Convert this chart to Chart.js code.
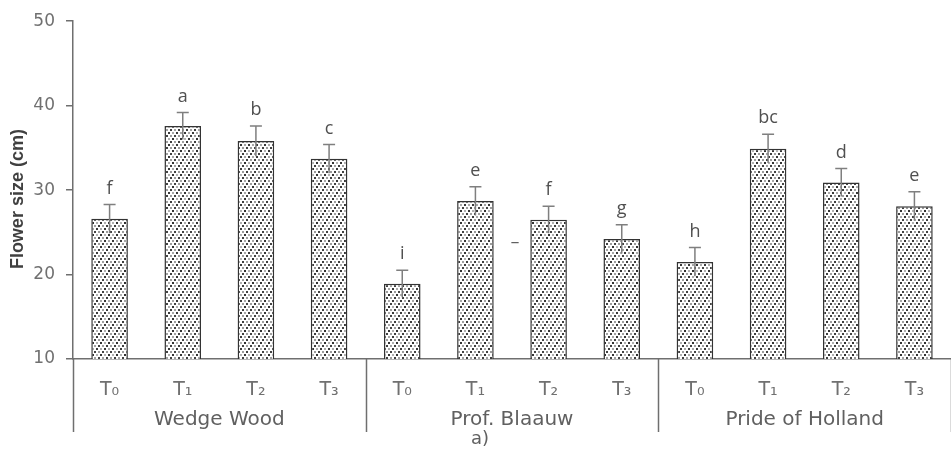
<!DOCTYPE html>
<html>
<head>
<meta charset="utf-8">
<script src="https://cdn.jsdelivr.net/npm/chart.js@4.4.1/dist/chart.umd.min.js"></script>
<style>
  html, body { margin: 0; padding: 0; background: #fff; }
  #wrap { width: 951px; height: 451px; }
</style>
</head>
<body>
<div id="wrap"><canvas id="chart"></canvas></div>
<script>
// ---- data ----
const treatments = ['T₀', 'T₁', 'T₂', 'T₃', 'T₀', 'T₁', 'T₂', 'T₃', 'T₀', 'T₁', 'T₂', 'T₃'];
const cultivars = ['Wedge Wood', 'Prof. Blaauw', 'Pride of Holland'];
const flowerSize = [26.6, 37.6, 35.8, 33.7, 18.9, 28.7, 26.5, 24.2, 21.5, 34.9, 30.9, 28.1];
const stdError = [1.7, 1.6, 1.8, 1.7, 1.6, 1.7, 1.6, 1.7, 1.7, 1.7, 1.65, 1.7];
const groupLetters = ['f', 'a', 'b', 'c', 'i', 'e', 'f', 'g', 'h', 'bc', 'd', 'e'];
const yTicks = [10, 20, 30, 40, 50];
const strayMark = { at: 5.5, value: 23.8, text: '–' };

const AXIS = '#6f6f6f';
const TEXT = '#707070';

// dotted fill like the original stipple
function makeStipple() {
    const c = document.createElement('canvas');
    c.width = 8; c.height = 12;
    const g = c.getContext('2d');
    g.fillStyle = '#ffffff';
    g.fillRect(0, 0, 8, 12);
    const dots = [
        [0, 0, '#3a3a3a'], [4, 0, '#a8a8a8'],
        [2, 3, '#9c9c9c'], [6, 3, '#444444'],
        [0, 6, '#b0b0b0'], [4, 6, '#333333'],
        [2, 9, '#404040'], [6, 9, '#a0a0a0']
    ];
    dots.forEach(([x, y, col]) => {
        g.fillStyle = col;
        g.fillRect(x, y, 2, 2);
    });
    return c;
}

// error bars, letters, cultivar groups and the axis title
const annotatePlugin = {
    id: 'annotate',
    afterDatasetsDraw(chart) {
        const ctx = chart.ctx;
        const ys = chart.scales.y;
        const meta = chart.getDatasetMeta(0);
        ctx.save();
        meta.data.forEach((bar, i) => {
            const top = ys.getPixelForValue(flowerSize[i] + stdError[i]);
            const bot = ys.getPixelForValue(flowerSize[i] - stdError[i]);
            ctx.strokeStyle = '#7f7f7f';
            ctx.lineWidth = 1.5;
            ctx.beginPath();
            ctx.moveTo(bar.x, bot);
            ctx.lineTo(bar.x, top);
            ctx.moveTo(bar.x - 6, top);
            ctx.lineTo(bar.x + 6, top);
            ctx.stroke();

            ctx.fillStyle = '#505050';
            ctx.font = '18px "Open Sans"';
            ctx.textAlign = 'center';
            ctx.textBaseline = 'middle';
            ctx.fillText(groupLetters[i], bar.x, top - 16);
        });
        ctx.restore();
    },
    afterDraw(chart) {
        const ctx = chart.ctx;
        const xs = chart.scales.x;
        const ys = chart.scales.y;
        const base = chart.chartArea.bottom;
        ctx.save();

        // group separators (incl. left axis extension)
        ctx.strokeStyle = AXIS;
        ctx.lineWidth = 1.5;
        [-0.5, 3.5, 7.5, 11.5].forEach(v => {
            const px = Math.round(xs.getPixelForValue(v)) + 0.5;
            ctx.beginPath();
            ctx.moveTo(px, base);
            ctx.lineTo(px, base + 73);
            ctx.stroke();
        });

        // cultivar names
        ctx.fillStyle = '#606060';
        ctx.font = '20px "DejaVu Sans"';
        ctx.textAlign = 'center';
        ctx.textBaseline = 'middle';
        cultivars.forEach((name, k) => {
            ctx.fillText(name, xs.getPixelForValue(k * 4 + 1.5), base + 61);
        });

        // panel tag
        ctx.font = '18px "DejaVu Sans"';
        ctx.fillText('a)', xs.getPixelForValue(5.5) - 32, base + 80);

        // stray dash from original
        ctx.font = '18px "DejaVu Sans"';
        ctx.fillText(strayMark.text, xs.getPixelForValue(strayMark.at) + 3, ys.getPixelForValue(strayMark.value));

        // y axis title
        ctx.translate(18, (chart.chartArea.top + base) / 2 + 9);
        ctx.rotate(-Math.PI / 2);
        ctx.fillStyle = '#404040';
        ctx.font = 'bold 18px "Liberation Sans"';
        ctx.fillText('Flower size (cm)', 0, 0);
        ctx.restore();
    }
};

const ctx = document.getElementById('chart').getContext('2d');
new Chart(ctx, {
    type: 'bar',
    data: {
        labels: treatments,
        datasets: [{
            label: 'Flower size',
            data: flowerSize,
            backgroundColor: ctx.createPattern(makeStipple(), 'repeat'),
            borderColor: '#333333',
            borderWidth: 1.5,
            barPercentage: 0.5,
            categoryPercentage: 1.0
        }]
    },
    options: {
        responsive: true,
        maintainAspectRatio: false,
        animation: false,
        layout: { padding: { top: 17, right: -9, bottom: 0, left: 0 } },
        scales: {
            x: {
                grid: { display: false },
                border: { display: true, color: AXIS, width: 1.5 },
                ticks: {
                    color: TEXT,
                    font: { family: 'DejaVu Sans', size: 19 },
                    padding: 12,
                    maxRotation: 0,
                    autoSkip: false
                },
                afterFit(scale) { scale.height = 92; }
            },
            y: {
                min: 10,
                max: 50,
                afterBuildTicks(scale) { scale.ticks = yTicks.map(v => ({ value: v })); },
                grid: {
                    drawOnChartArea: false,
                    drawTicks: true,
                    tickLength: 7,
                    color: AXIS,
                    lineWidth: 1.5
                },
                border: { display: true, color: AXIS, width: 1.5 },
                ticks: {
                    color: TEXT,
                    font: { family: 'DejaVu Sans', size: 17 },
                    padding: 11
                },
                afterFit(scale) { scale.width = 73; }
            }
        },
        plugins: {
            legend: { display: false },
            tooltip: { enabled: false }
        }
    },
    plugins: [annotatePlugin]
});
</script>
</body>
</html>
